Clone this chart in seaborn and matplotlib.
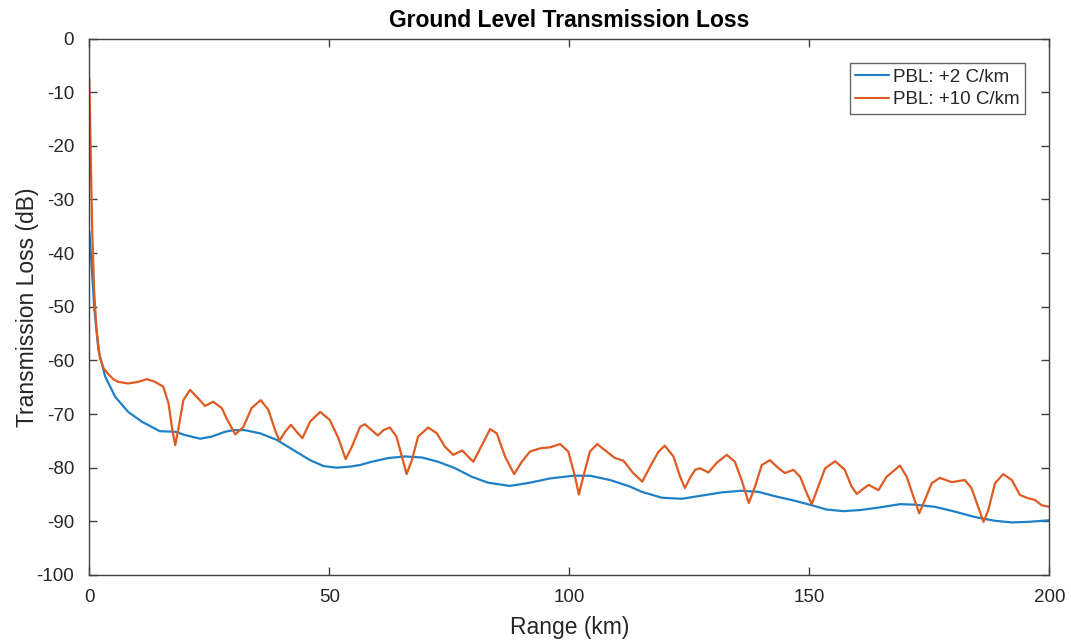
import matplotlib
matplotlib.use("Agg")
import matplotlib.pyplot as plt
import seaborn as sns
import numpy as np

# Ground-level transmission loss vs. range for two PBL lapse rates
range_2c = [0, 0.3, 0.6, 1.0, 1.9, 3.3, 5.4, 8.1, 10.9, 13.0,
            14.7, 17.9, 19.9, 23.1, 25.5, 28.3, 30.0, 32.4, 35.6, 39.0,
            42.5, 46.0, 48.8, 51.5, 54.3, 56.4, 58.8, 62.3, 65.8, 69.3,
            72.7, 76.2, 79.7, 83.1, 87.6, 91.8, 96.0, 100.9, 104.3, 108.5,
            112.6, 115.1, 119.3, 123.4, 127.6, 131.8, 135.9, 139.4, 143.2, 146.7,
            150.5, 153.6, 157.1, 160.6, 164.7, 168.9, 172.1, 176.2, 180.4, 184.5,
            188.7, 192.2, 195.6, 200.0]
tl_2c = [-36.0, -40.0, -44.0, -50.0, -58.1, -63.0, -66.8, -69.6, -71.4, -72.4,
         -73.2, -73.3, -73.9, -74.6, -74.2, -73.3, -73.0, -73.0, -73.6, -74.8,
         -76.7, -78.6, -79.7, -80.0, -79.8, -79.5, -78.9, -78.2, -77.9, -78.1,
         -78.9, -80.1, -81.7, -82.8, -83.4, -82.8, -82.0, -81.5, -81.5, -82.3,
         -83.5, -84.5, -85.6, -85.8, -85.2, -84.6, -84.3, -84.5, -85.4, -86.1,
         -87.0, -87.8, -88.1, -87.9, -87.4, -86.8, -86.9, -87.3, -88.2, -89.2,
         -89.9, -90.2, -90.1, -89.8]

range_10c = [0, 0.3, 0.6, 1.0, 1.5, 2.2, 3.0, 4.0, 5.0, 6.0,
             8.1, 10.2, 12.0, 13.7, 15.4, 16.5, 17.3, 17.9, 18.5, 19.6,
             21.0, 22.7, 24.1, 25.8, 27.6, 28.6, 30.4, 32.1, 33.8, 35.7,
             37.3, 38.7, 39.6, 40.8, 42.0, 43.2, 44.4, 46.0, 48.1, 50.1,
             51.9, 53.4, 54.7, 56.4, 57.4, 58.8, 60.1, 61.3, 62.6, 64.0,
             65.1, 66.1, 67.2, 68.5, 70.6, 72.4, 74.1, 75.8, 77.7, 80.0,
             81.8, 83.5, 84.9, 86.6, 88.5, 90.1, 91.8, 93.9, 96.0, 98.1,
             99.8, 101.2, 102.0, 102.9, 104.3, 105.8, 107.8, 109.5, 111.3, 113.3,
             115.2, 117.2, 118.6, 119.9, 121.7, 123.1, 124.1, 125.1, 126.2, 127.2,
             129.0, 130.7, 132.8, 134.5, 135.9, 137.4, 138.7, 140.1, 141.8, 143.6,
             144.9, 146.7, 148.1, 149.5, 150.5, 151.6, 153.3, 155.4, 157.4, 158.8,
             159.9, 161.3, 162.4, 164.4, 166.1, 168.9, 170.3, 171.7, 172.9, 174.1,
             175.5, 177.2, 179.7, 182.4, 183.8, 185.2, 186.3, 187.3, 188.7, 190.4,
             192.2, 193.9, 195.6, 197.0, 198.4, 200.0]
tl_10c = [-7.5, -22.0, -36.0, -47.0, -54.3, -59.5, -61.5, -62.6, -63.5, -64.0,
          -64.3, -64.0, -63.5, -64.0, -64.9, -68.0, -73.0, -75.8, -73.0, -67.4,
          -65.5, -67.1, -68.5, -67.7, -68.9, -70.8, -73.8, -72.4, -68.9, -67.4,
          -69.2, -73.0, -75.0, -73.3, -72.0, -73.3, -74.5, -71.4, -69.6, -71.1,
          -74.5, -78.4, -76.1, -72.4, -71.9, -73.0, -74.0, -73.0, -72.5, -74.2,
          -77.9, -81.2, -78.6, -74.2, -72.5, -73.6, -76.1, -77.6, -76.8, -78.9,
          -75.8, -72.8, -73.6, -77.9, -81.2, -78.9, -77.0, -76.4, -76.2, -75.6,
          -77.0, -81.7, -85.0, -81.7, -77.0, -75.6, -77.0, -78.2, -78.7, -81.0,
          -82.6, -79.2, -77.0, -75.9, -77.9, -81.7, -83.8, -82.0, -80.4, -80.1,
          -80.9, -79.1, -77.6, -78.9, -82.3, -86.6, -83.5, -79.5, -78.6, -80.1,
          -81.0, -80.4, -81.7, -84.8, -86.8, -84.2, -80.1, -78.8, -80.4, -83.5,
          -84.9, -83.9, -83.2, -84.2, -81.7, -79.6, -81.7, -85.4, -88.5, -86.0,
          -82.9, -81.9, -82.7, -82.3, -83.8, -87.3, -90.1, -87.9, -82.9, -81.2,
          -82.3, -85.1, -85.7, -86.0, -87.0, -87.3]

series_labels = ["PBL: +2 C/km", "PBL: +10 C/km"]
series_colors = ["#1F80C8", "#DE5B22"]
x_ticks = [0, 50, 100, 150, 200]
y_ticks = list(range(-100, 1, 10))

sns.set_theme(style="white")
plt.rcParams["font.family"] = ["Liberation Sans", "DejaVu Sans"]

fig = plt.figure(figsize=(10.71, 6.41), dpi=100)
ax = fig.add_axes([0.0834, 0.103, 0.8963, 0.8369])

for xs, ys, lab, col in zip([range_2c, range_10c], [tl_2c, tl_10c],
                            series_labels, series_colors):
    sns.lineplot(x=xs, y=ys, ax=ax, color=col, linewidth=1.6,
                 estimator=None, sort=False, label=lab,
                 solid_joinstyle="round", solid_capstyle="round")

ax.set_xlim(0, 200)
ax.set_ylim(-100, 0)
ax.set_xticks(x_ticks)
ax.set_yticks(y_ticks)
ax.set_xticklabels([str(v) for v in x_ticks])
ax.set_yticklabels([str(v) for v in y_ticks])

axis_col = "#404040"
for sp in ax.spines.values():
    sp.set_visible(True)
    sp.set_color(axis_col)
    sp.set_linewidth(1.0)
ax.tick_params(direction="in", length=6, width=1.0, color=axis_col,
               top=True, right=True, bottom=True, left=True,
               labelsize=13.5, labelcolor="#262626")
ax.tick_params(axis="y", pad=11)
ax.tick_params(axis="x", pad=10)

ax.set_xlabel("Range (km)", fontsize=16.5, color="#262626", labelpad=7)
ax.set_ylabel("Transmission Loss (dB)", fontsize=16.5, color="#262626", labelpad=-2)
ax.set_title("Ground Level Transmission Loss", fontsize=16.5, fontweight="bold",
             color="#000000", pad=8)

leg = ax.legend(loc="upper right", fontsize=13.5, frameon=True, fancybox=False,
                shadow=False, handlelength=1.8, handletextpad=0.2,
                borderpad=0.3, labelspacing=0.3, borderaxespad=1.3)
leg.get_frame().set_edgecolor(axis_col)
leg.get_frame().set_linewidth(1.0)
leg.get_frame().set_facecolor("white")
for line in leg.get_lines():
    line.set_linewidth(1.5)

fig.savefig("out.png", dpi=100, facecolor="white")
